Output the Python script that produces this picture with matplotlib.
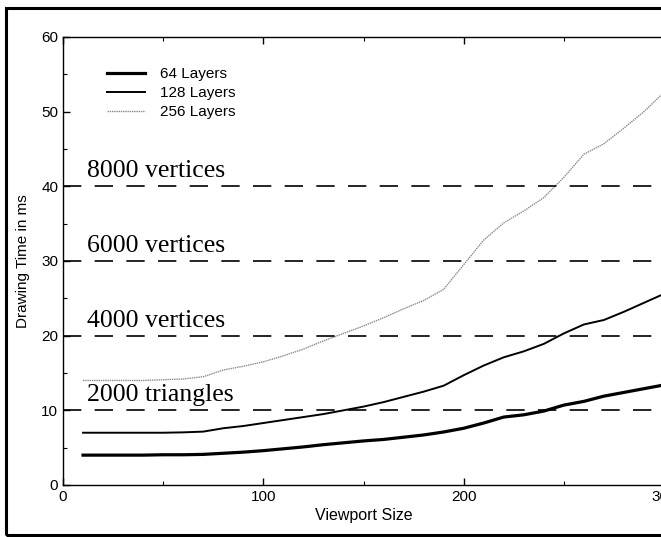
import matplotlib
matplotlib.use("Agg")
import matplotlib.pyplot as plt
from matplotlib.patches import Rectangle
from matplotlib.ticker import MultipleLocator

viewport = [10, 20, 30, 40, 50, 60, 70, 80, 90, 100, 110, 120, 130, 140, 150,
            160, 170, 180, 190, 200, 210, 220, 230, 240, 250, 260, 270, 280, 290, 300]
layers64 = [4.0, 4.0, 4.0, 4.0, 4.05, 4.05, 4.1, 4.25, 4.4, 4.6, 4.85, 5.1, 5.4, 5.65, 5.9,
            6.1, 6.4, 6.7, 7.1, 7.6, 8.3, 9.1, 9.4, 9.9, 10.7, 11.2, 11.9, 12.4, 12.9, 13.4]
layers128 = [7.0, 7.0, 7.0, 7.0, 7.0, 7.05, 7.15, 7.6, 7.9, 8.3, 8.7, 9.1, 9.5, 10.0, 10.5,
             11.1, 11.8, 12.5, 13.3, 14.7, 16.0, 17.1, 17.9, 18.9, 20.3, 21.5, 22.1, 23.2, 24.4, 25.6]
layers256 = [14.0, 14.0, 14.0, 14.0, 14.1, 14.2, 14.5, 15.4, 15.9, 16.5, 17.3, 18.2, 19.3, 20.3, 21.3,
             22.4, 23.6, 24.7, 26.2, 29.5, 32.8, 35.1, 36.7, 38.5, 41.2, 44.3, 45.7, 47.8, 50.0, 52.6]
series_labels = ["64 Layers", "128 Layers", "256 Layers"]
thresholds = [10, 20, 30, 40]
threshold_labels = ["2000 triangles", "4000 vertices", "6000 vertices", "8000 vertices"]

plt.rcParams['font.family'] = ['Liberation Sans', 'DejaVu Sans']

fig = plt.figure(figsize=(6.61, 5.37), dpi=100)
ax = fig.add_axes([63/661, 52/537, 601/661, 448/537])

ax.plot(viewport, layers64, color='black', lw=2.3, label=series_labels[0])
ax.plot(viewport, layers128, color='black', lw=1.4, label=series_labels[1])
ax.plot(viewport, layers256, color='#8a8a8a', lw=1.0, ls=(0, (1, 0.6)), label=series_labels[2])

for y, lab in zip(thresholds, threshold_labels):
    ax.axhline(y, color='black', lw=1.2, dashes=(11, 8))
    ax.text(12, y + 1.2, lab, fontsize=18.5, family=['Liberation Serif', 'DejaVu Serif'],
            ha='left', va='baseline')

ax.set_xlim(0, 300)
ax.set_ylim(0, 60)
ax.xaxis.set_major_locator(MultipleLocator(100))
ax.xaxis.set_minor_locator(MultipleLocator(50))
ax.yaxis.set_major_locator(MultipleLocator(10))
ax.yaxis.set_minor_locator(MultipleLocator(5))
ax.tick_params(which='both', direction='in', top=True, right=False, labelsize=11)
ax.tick_params(which='major', length=5, width=1)
ax.tick_params(which='minor', length=3, width=0.8)
ax.spines['right'].set_visible(False)
for s in ['left', 'bottom', 'top']:
    ax.spines[s].set_linewidth(1.0)

ax.set_xlabel("Viewport Size", fontsize=11.5, labelpad=3)
ax.set_ylabel("Drawing Time in ms", fontsize=11, labelpad=8)

ax.legend(loc='upper left', bbox_to_anchor=(0.05, 0.964), frameon=False, fontsize=11,
          handlelength=2.5, handletextpad=1.0, labelspacing=0.33)

fig.patches.append(Rectangle((6/661, 2/537), 700/661, 527/537, transform=fig.transFigure,
                             fill=False, lw=2.2, edgecolor='black', clip_on=False))

fig.savefig("out.png", dpi=100)
